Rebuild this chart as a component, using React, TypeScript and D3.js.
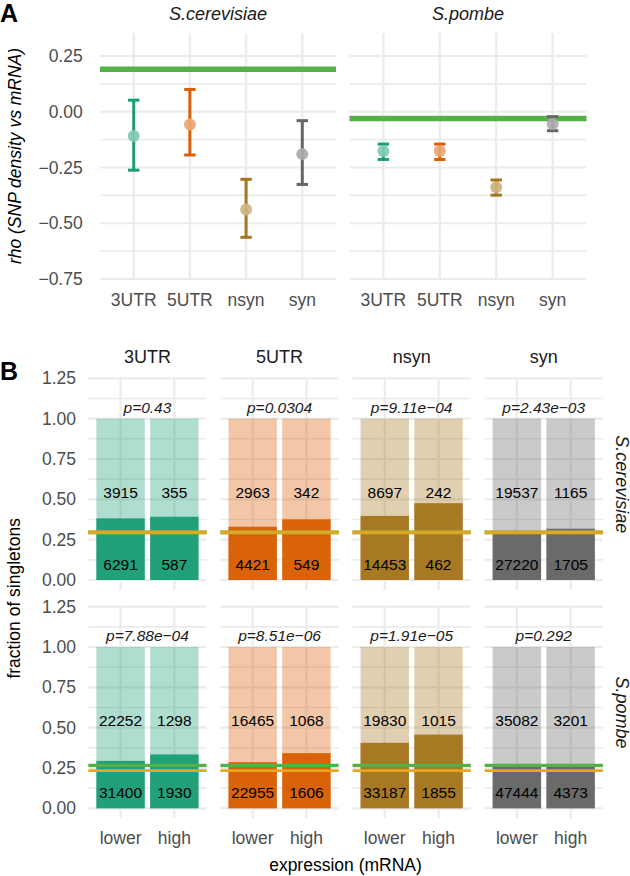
import React from "react";
import * as d3 from "d3";

const categories = ["3UTR", "5UTR", "nsyn", "syn"];
const species = ["S.cerevisiae", "S.pombe"];
const expressionLevels = ["lower", "high"];
const colors = ["#1B9E77", "#D95F02", "#A6761D", "#666666"];

// Panel A: rho (SNP density vs mRNA)
const rhoEstCer = [-0.109, -0.057, -0.438, -0.19];
const rhoLowCer = [-0.262, -0.194, -0.563, -0.326];
const rhoHighCer = [0.052, 0.1, -0.303, -0.04];
const rhoEstPom = [-0.176, -0.176, -0.339, -0.055];
const rhoLowPom = [-0.214, -0.214, -0.374, -0.085];
const rhoHighPom = [-0.145, -0.145, -0.306, -0.022];
const rhoGenome = [0.191, -0.03];
const rhoTicks = [0.25, 0, -0.25, -0.5, -0.75];

// Panel B: fraction of singletons
const fracCerLower = [0.382, 0.33, 0.397, 0.29];
const fracCerHigh = [0.392, 0.376, 0.476, 0.318];
const fracPomLower = [0.294, 0.286, 0.406, 0.262];
const fracPomHigh = [0.334, 0.342, 0.457, 0.262];
const topCountCerLower = [3915, 2963, 8697, 19537];
const topCountCerHigh = [355, 342, 242, 1165];
const botCountCerLower = [6291, 4421, 14453, 27220];
const botCountCerHigh = [587, 549, 462, 1705];
const topCountPomLower = [22252, 16465, 19830, 35082];
const topCountPomHigh = [1298, 1068, 1015, 3201];
const botCountPomLower = [31400, 22955, 33187, 47444];
const botCountPomHigh = [1930, 1606, 1855, 4373];
const pvalCer = ["p=0.43", "p=0.0304", "p=9.11e\u221204", "p=2.43e\u221203"];
const pvalPom = ["p=7.88e\u221204", "p=8.51e\u221206", "p=1.91e\u221205", "p=0.292"];
const greenLine = [0.295, 0.266];
const orangeLine = [0.295, 0.233];
const fracTicks = [0, 0.25, 0.5, 0.75, 1, 1.25];

const FONT = "'Liberation Sans', Arial, Helvetica, sans-serif";
const GRID = "#EBEBEB";
const AXIS_TXT = "#4D4D4D";
const STRIP_TXT = "#1A1A1A";
const GREEN = "#55B04A";
const ORANGE = "#E6A61F";

const fmtTick = (v: number) => {
  const s = d3.format(".2f")(Math.abs(v));
  return v < 0 ? "\u2212" + s : s;
};

function PanelA() {
  const y = d3.scaleLinear().domain([-0.75, 0.25]).range([279, 56]);
  const top = 33;
  const bottom = 279;
  const panels = [
    { left: 100, right: 336, est: rhoEstCer, lo: rhoLowCer, hi: rhoHighCer },
    { left: 349.5, right: 586.5, est: rhoEstPom, lo: rhoLowPom, hi: rhoHighPom },
  ];
  const minor = d3.range(-0.625, 0.3, 0.25);
  return (
    <g>
      <text x={0} y={22} fontSize={25} fontWeight="bold" fontFamily={FONT} fill="#000">A</text>
      <text
        transform={`translate(15,${(top + bottom) / 2}) rotate(-90)`}
        textAnchor="middle"
        dominantBaseline="central"
        fontSize={17.5}
        fontStyle="italic"
        fontFamily={FONT}
        fill="#000"
      >
        rho (SNP density vs mRNA)
      </text>
      {rhoTicks.map((t) => (
        <text key={t} x={82.7} y={y(t)} textAnchor="end" dominantBaseline="central" fontSize={17.5} fontFamily={FONT} fill={AXIS_TXT}>
          {fmtTick(t)}
        </text>
      ))}
      {panels.map((p, pi) => {
        const x = d3.scalePoint<string>().domain(categories).range([p.left, p.right]).padding(0.6);
        return (
          <g key={pi}>
            <text x={(p.left + p.right) / 2} y={14} textAnchor="middle" dominantBaseline="central" fontSize={18} fontStyle="italic" fontFamily={FONT} fill={STRIP_TXT}>
              {species[pi]}
            </text>
            {minor.map((m) => (
              <line key={"m" + m} x1={p.left} x2={p.right} y1={y(m)} y2={y(m)} stroke={GRID} strokeWidth={1.6} />
            ))}
            {rhoTicks.map((t) => (
              <line key={"t" + t} x1={p.left} x2={p.right} y1={y(t)} y2={y(t)} stroke={GRID} strokeWidth={2.2} />
            ))}
            {categories.map((c) => (
              <line key={"v" + c} x1={x(c)} x2={x(c)} y1={top} y2={bottom} stroke={GRID} strokeWidth={2.2} />
            ))}
            <line x1={p.left} x2={p.right} y1={y(rhoGenome[pi])} y2={y(rhoGenome[pi])} stroke={GREEN} strokeWidth={5.5} />
            {categories.map((c, i) => {
              const cx = x(c) as number;
              const light = d3.interpolateRgb(colors[i], "#ffffff")(0.45);
              return (
                <g key={"e" + c}>
                  <line x1={cx} x2={cx} y1={y(p.lo[i])} y2={y(p.hi[i])} stroke={colors[i]} strokeWidth={3} />
                  <line x1={cx - 5.7} x2={cx + 5.7} y1={y(p.lo[i])} y2={y(p.lo[i])} stroke={colors[i]} strokeWidth={3} />
                  <line x1={cx - 5.7} x2={cx + 5.7} y1={y(p.hi[i])} y2={y(p.hi[i])} stroke={colors[i]} strokeWidth={3} />
                  <circle cx={cx} cy={y(p.est[i])} r={6} fill={light} fillOpacity={0.92} />
                </g>
              );
            })}
            {categories.map((c) => (
              <text key={"l" + c} x={x(c)} y={300} textAnchor="middle" dominantBaseline="central" fontSize={17.5} fontFamily={FONT} fill={AXIS_TXT}>
                {c}
              </text>
            ))}
          </g>
        );
      })}
    </g>
  );
}

function PanelB() {
  const panelW = 118.3;
  const panelLefts = categories.map((_, i) => 88.3 + i * 132.1);
  const rows = [
    {
      y: d3.scaleLinear().domain([0, 1.25]).range([580, 378.3]),
      top: 378.3,
      bottom: 590.1,
      lower: fracCerLower,
      high: fracCerHigh,
      topL: topCountCerLower,
      topH: topCountCerHigh,
      botL: botCountCerLower,
      botH: botCountCerHigh,
      pv: pvalCer,
    },
    {
      y: d3.scaleLinear().domain([0, 1.25]).range([808.3, 606.7]),
      top: 606.7,
      bottom: 818.4,
      lower: fracPomLower,
      high: fracPomHigh,
      topL: topCountPomLower,
      topH: topCountPomHigh,
      botL: botCountPomLower,
      botH: botCountPomHigh,
      pv: pvalPom,
    },
  ];
  const minor = d3.range(0.125, 1.25, 0.25);
  return (
    <g>
      <text x={0} y={380} fontSize={25} fontWeight="bold" fontFamily={FONT} fill="#000">B</text>
      <text
        transform={`translate(14,${(378.3 + 818.4) / 2}) rotate(-90)`}
        textAnchor="middle"
        dominantBaseline="central"
        fontSize={17.5}
        fontFamily={FONT}
        fill="#000"
      >
        fraction of singletons
      </text>
      <text x={(88.3 + 602.7) / 2} y={865} textAnchor="middle" dominantBaseline="central" fontSize={17.5} fontFamily={FONT} fill="#000">
        expression (mRNA)
      </text>
      {categories.map((c, ci) => (
        <text key={"s" + c} x={panelLefts[ci] + panelW / 2} y={357} textAnchor="middle" dominantBaseline="central" fontSize={18} fontFamily={FONT} fill={STRIP_TXT}>
          {c}
        </text>
      ))}
      {rows.map((r, ri) => (
        <g key={ri}>
          {fracTicks.map((t) => (
            <text key={t} x={76} y={r.y(t)} textAnchor="end" dominantBaseline="central" fontSize={17.5} fontFamily={FONT} fill={AXIS_TXT}>
              {d3.format(".2f")(t)}
            </text>
          ))}
          <text
            transform={`translate(621.5,${(r.top + r.bottom) / 2}) rotate(90)`}
            textAnchor="middle"
            dominantBaseline="central"
            fontSize={18}
            fontStyle="italic"
            fontFamily={FONT}
            fill={STRIP_TXT}
          >
            {species[ri]}
          </text>
          {categories.map((c, ci) => {
            const left = panelLefts[ci];
            const right = left + panelW;
            const xs = d3.scalePoint<string>().domain(expressionLevels).range([left, right]).padding(0.6);
            const step = xs.step();
            const bw = step * 0.9;
            const fracs = [r.lower[ci], r.high[ci]];
            const tops = [r.topL[ci], r.topH[ci]];
            const bots = [r.botL[ci], r.botH[ci]];
            return (
              <g key={c}>
                {minor.map((m) => (
                  <line key={"m" + m} x1={left} x2={right} y1={r.y(m)} y2={r.y(m)} stroke={GRID} strokeWidth={1.6} />
                ))}
                {fracTicks.map((t) => (
                  <line key={"t" + t} x1={left} x2={right} y1={r.y(t)} y2={r.y(t)} stroke={GRID} strokeWidth={2.2} />
                ))}
                {expressionLevels.map((e) => (
                  <line key={"v" + e} x1={xs(e)} x2={xs(e)} y1={r.top} y2={r.bottom} stroke={GRID} strokeWidth={2.2} />
                ))}
                {expressionLevels.map((e, ei) => {
                  const cx = xs(e) as number;
                  return (
                    <g key={"b" + e}>
                      <rect x={cx - bw / 2} width={bw} y={r.y(1)} height={r.y(0) - r.y(1)} fill={colors[ci]} fillOpacity={0.35} />
                      <rect x={cx - bw / 2} width={bw} y={r.y(fracs[ei])} height={r.y(0) - r.y(fracs[ei])} fill={colors[ci]} fillOpacity={0.96} />
                    </g>
                  );
                })}
                {ri === 0 ? (
                  <g>
                    <line x1={left} x2={right} y1={r.y(greenLine[ri])} y2={r.y(greenLine[ri])} stroke={GREEN} strokeWidth={3.6} />
                    <line x1={left} x2={right} y1={r.y(orangeLine[ri])} y2={r.y(orangeLine[ri])} stroke={ORANGE} strokeWidth={3.6} strokeOpacity={0.93} />
                  </g>
                ) : (
                  <g>
                    <line x1={left} x2={right} y1={r.y(greenLine[ri])} y2={r.y(greenLine[ri])} stroke={GREEN} strokeWidth={3.3} />
                    <line x1={left} x2={right} y1={r.y(orangeLine[ri])} y2={r.y(orangeLine[ri])} stroke={ORANGE} strokeWidth={2.7} />
                  </g>
                )}
                {expressionLevels.map((e, ei) => {
                  const cx = xs(e) as number;
                  return (
                    <g key={"n" + e}>
                      <text x={cx} y={r.y(0.545)} textAnchor="middle" dominantBaseline="central" fontSize={15.5} fontFamily={FONT} fill="#000">
                        {tops[ei]}
                      </text>
                      <text x={cx} y={r.y(0.095)} textAnchor="middle" dominantBaseline="central" fontSize={15.5} fontFamily={FONT} fill="#000">
                        {bots[ei]}
                      </text>
                    </g>
                  );
                })}
                <text x={(left + right) / 2} y={r.y(1.07)} textAnchor="middle" dominantBaseline="central" fontSize={15.5} fontStyle="italic" fontFamily={FONT} fill={STRIP_TXT}>
                  {r.pv[ci]}
                </text>
                {ri === 1 &&
                  expressionLevels.map((e) => (
                    <text key={"x" + e} x={xs(e)} y={838} textAnchor="middle" dominantBaseline="central" fontSize={17.5} fontFamily={FONT} fill={AXIS_TXT}>
                      {e}
                    </text>
                  ))}
              </g>
            );
          })}
        </g>
      ))}
    </g>
  );
}

export default function App() {
  return (
    <svg width={630} height={876} style={{ position: "absolute", left: 0, top: 0, background: "#fff" }}>
      <rect width={630} height={876} fill="#fff" />
      <PanelA />
      <PanelB />
    </svg>
  );
}
